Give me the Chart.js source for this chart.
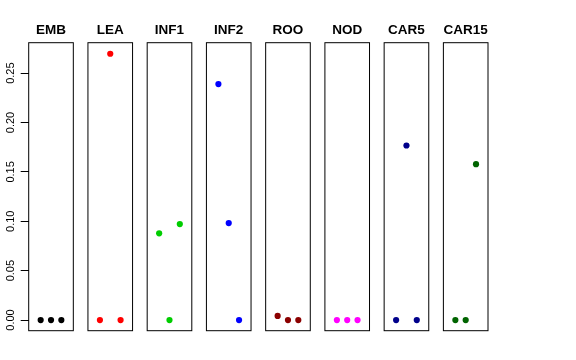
<!DOCTYPE html>
<html>
<head>
<meta charset="utf-8">
<script src="https://cdn.jsdelivr.net/npm/chart.js@4/dist/chart.umd.min.js"></script>
<style>
html,body{margin:0;padding:0;background:#fff;}
#c{display:block;}
</style>
</head>
<body>
<canvas id="c" width="576" height="360"></canvas>
<script>
// ---- data ----
const categories = ['EMB', 'LEA', 'INF1', 'INF2', 'ROO', 'NOD', 'CAR5', 'CAR15'];
const valuesEMB   = [0, 0, 0];
const valuesLEA   = [0, 0.2696, 0];
const valuesINF1  = [0.0878, 0, 0.0972];
const valuesINF2  = [0.2389, 0.0982, 0];
const valuesROO   = [0.0042, 0, 0];
const valuesNOD   = [0, 0, 0];
const valuesCAR5  = [0, 0.1767, 0];
const valuesCAR15 = [0, 0, 0.1578];
const seriesValues = [valuesEMB, valuesLEA, valuesINF1, valuesINF2, valuesROO, valuesNOD, valuesCAR5, valuesCAR15];
const colors = ['#000000', '#FF0000', '#00CD00', '#0000FF', '#8B0000', '#FF00FF', '#00008B', '#006400'];
const yTickValues = [0, 0.05, 0.10, 0.15, 0.20, 0.25];
const yTickLabels = ['0.00', '0.05', '0.10', '0.15', '0.20', '0.25'];

// ---- layout helpers ----
const GAP = 5.736;      // panel spacing in x units
const PAD = 0.16;       // inner padding of each panel (R's 4% extension)
const NPOS = 3;
const yMin = -0.0108, yMax = 0.2808;

const datasets = categories.map((cat, i) => ({
  label: cat,
  data: seriesValues[i].map((v, j) => ({ x: i * GAP + (j + 1), y: v })),
  backgroundColor: colors[i],
  borderWidth: 0,
  pointRadius: 3.1,
  pointHoverRadius: 3.1
}));

const panelPlugin = {
  id: 'panels',
  afterDatasetsDraw(chart) {
    const ctx = chart.ctx;
    const xs = chart.scales.x, ys = chart.scales.y;
    const top = chart.chartArea.top, bottom = chart.chartArea.bottom;
    ctx.save();
    ctx.strokeStyle = '#000';
    ctx.lineWidth = 1;
    categories.forEach((cat, i) => {
      const l = xs.getPixelForValue(i * GAP - PAD);
      const r = xs.getPixelForValue(i * GAP + NPOS + 1 + PAD);
      ctx.strokeRect(l, top, r - l, bottom - top);
      ctx.fillStyle = '#000';
      ctx.font = 'bold 13.5px "Liberation Sans", Arial, sans-serif';
      ctx.textAlign = 'center';
      ctx.textBaseline = 'alphabetic';
      ctx.fillText(cat, (l + r) / 2, 34);
    });
    // rotated y tick labels
    ctx.font = '11px "Liberation Sans", Arial, sans-serif';
    ctx.fillStyle = '#000';
    yTickValues.forEach((v, k) => {
      const py = ys.getPixelForValue(v);
      ctx.save();
      ctx.translate(14, py);
      ctx.rotate(-Math.PI / 2);
      ctx.textAlign = 'center';
      ctx.textBaseline = 'alphabetic';
      ctx.fillText(yTickLabels[k], 0, 0);
      ctx.restore();
    });
    ctx.restore();
  }
};

new Chart(document.getElementById('c'), {
  type: 'scatter',
  data: { datasets },
  options: {
    responsive: false,
    animation: false,
    devicePixelRatio: 1,
    layout: { padding: { top: 42.7, right: 88, bottom: 29.3, left: 0 } },
    plugins: { legend: { display: false }, tooltip: { enabled: false } },
    scales: {
      x: {
        type: 'linear',
        display: false,
        min: -PAD,
        max: (categories.length - 1) * GAP + NPOS + 1 + PAD
      },
      y: {
        type: 'linear',
        min: yMin,
        max: yMax,
        afterFit(scale) { scale.width = 28.7; },
        afterBuildTicks(scale) { scale.ticks = yTickValues.map(v => ({ value: v })); },
        ticks: { display: false },
        grid: { drawOnChartArea: false, drawTicks: true, tickLength: 8, color: '#000', lineWidth: 1 },
        border: { display: false }
      }
    }
  },
  plugins: [panelPlugin]
});
</script>
</body>
</html>
